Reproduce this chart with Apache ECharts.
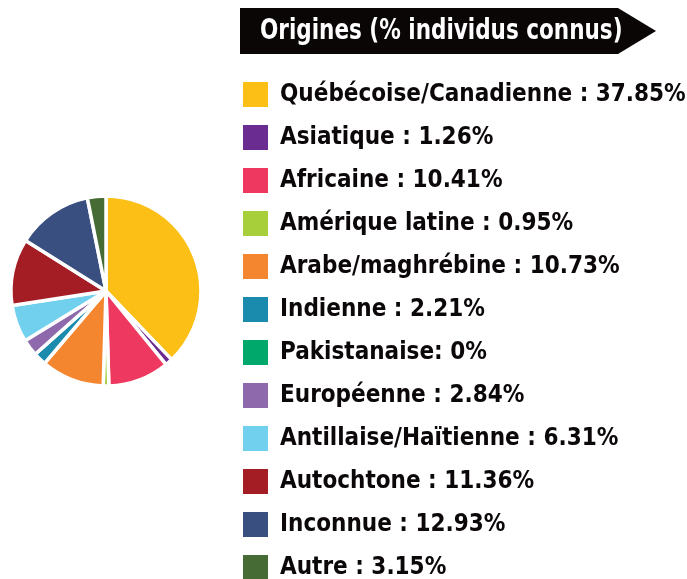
<!DOCTYPE html>
<html>
<head>
<meta charset="utf-8">
<script src="https://cdn.jsdelivr.net/npm/echarts@6/dist/echarts.min.js"></script>
<style>
  html, body { margin: 0; padding: 0; background: #fff; }
  #chart { width: 687px; height: 579px; }
</style>
</head>
<body>
<div id="chart"></div>
<script>
// données
var categories = ['Québécoise/Canadienne', 'Asiatique', 'Africaine', 'Amérique latine', 'Arabe/maghrébine',
  'Indienne', 'Pakistanaise', 'Européenne', 'Antillaise/Haïtienne', 'Autochtone', 'Inconnue', 'Autre'];
var values = [37.85, 1.26, 10.41, 0.95, 10.73, 2.21, 0, 2.84, 6.31, 11.36, 12.93, 3.15];
var legendLabels = ['Québécoise/Canadienne : 37.85%', 'Asiatique : 1.26%', 'Africaine : 10.41%',
  'Amérique latine : 0.95%', 'Arabe/maghrébine : 10.73%', 'Indienne : 2.21%', 'Pakistanaise: 0%',
  'Européenne : 2.84%', 'Antillaise/Haïtienne : 6.31%', 'Autochtone : 11.36%', 'Inconnue : 12.93%',
  'Autre : 3.15%'];
var colors = ['#fbbf16', '#6a2c91', '#ef3860', '#a6cf3a', '#f58630', '#1b8bad', '#00a86b',
  '#8e6aad', '#72d0ef', '#a51d24', '#394f80', '#476b35'];
var title = 'Origines (% individus connus)';

var font = '"DejaVu Sans Condensed", sans-serif';

var chart = echarts.init(document.getElementById('chart'));

var pieData = categories.map(function (c, i) {
  return { name: c, value: values[i], itemStyle: { color: colors[i] } };
});

var option = {
  animation: false,
  color: colors,
  legend: {
    orient: 'vertical',
    left: 241,
    top: 80,
    height: 620,
    padding: 0,
    icon: 'rect',
    itemWidth: 27,
    itemHeight: 27,
    itemGap: 14,
    selectedMode: false,
    data: categories,
    formatter: function (name) {
      return legendLabels[categories.indexOf(name)];
    },
    textStyle: {
      fontFamily: font,
      fontWeight: 'bold',
      fontSize: 24,
      lineHeight: 24,
      color: '#0c0809',
      padding: [0, 0, 0, 6]
    }
  },
  graphic: [
    {
      type: 'polygon',
      shape: { points: [[240, 8], [618, 8], [656, 31], [618, 54], [240, 54]] },
      style: { fill: '#0a0606' }
    },
    {
      type: 'text',
      x: 260,
      y: 32,
      scaleX: 0.855,
      style: {
        text: title,
        fill: '#ffffff',
        font: 'bold 28px ' + font,
        verticalAlign: 'middle'
      }
    }
  ],
  series: [
    {
      type: 'pie',
      center: [106, 291],
      radius: 95,
      startAngle: 90,
      clockwise: true,
      label: { show: false },
      labelLine: { show: false },
      silent: true,
      itemStyle: { borderColor: '#ffffff', borderWidth: 3.5 },
      data: pieData
    }
  ]
};
chart.setOption(option);
</script>
</body>
</html>
